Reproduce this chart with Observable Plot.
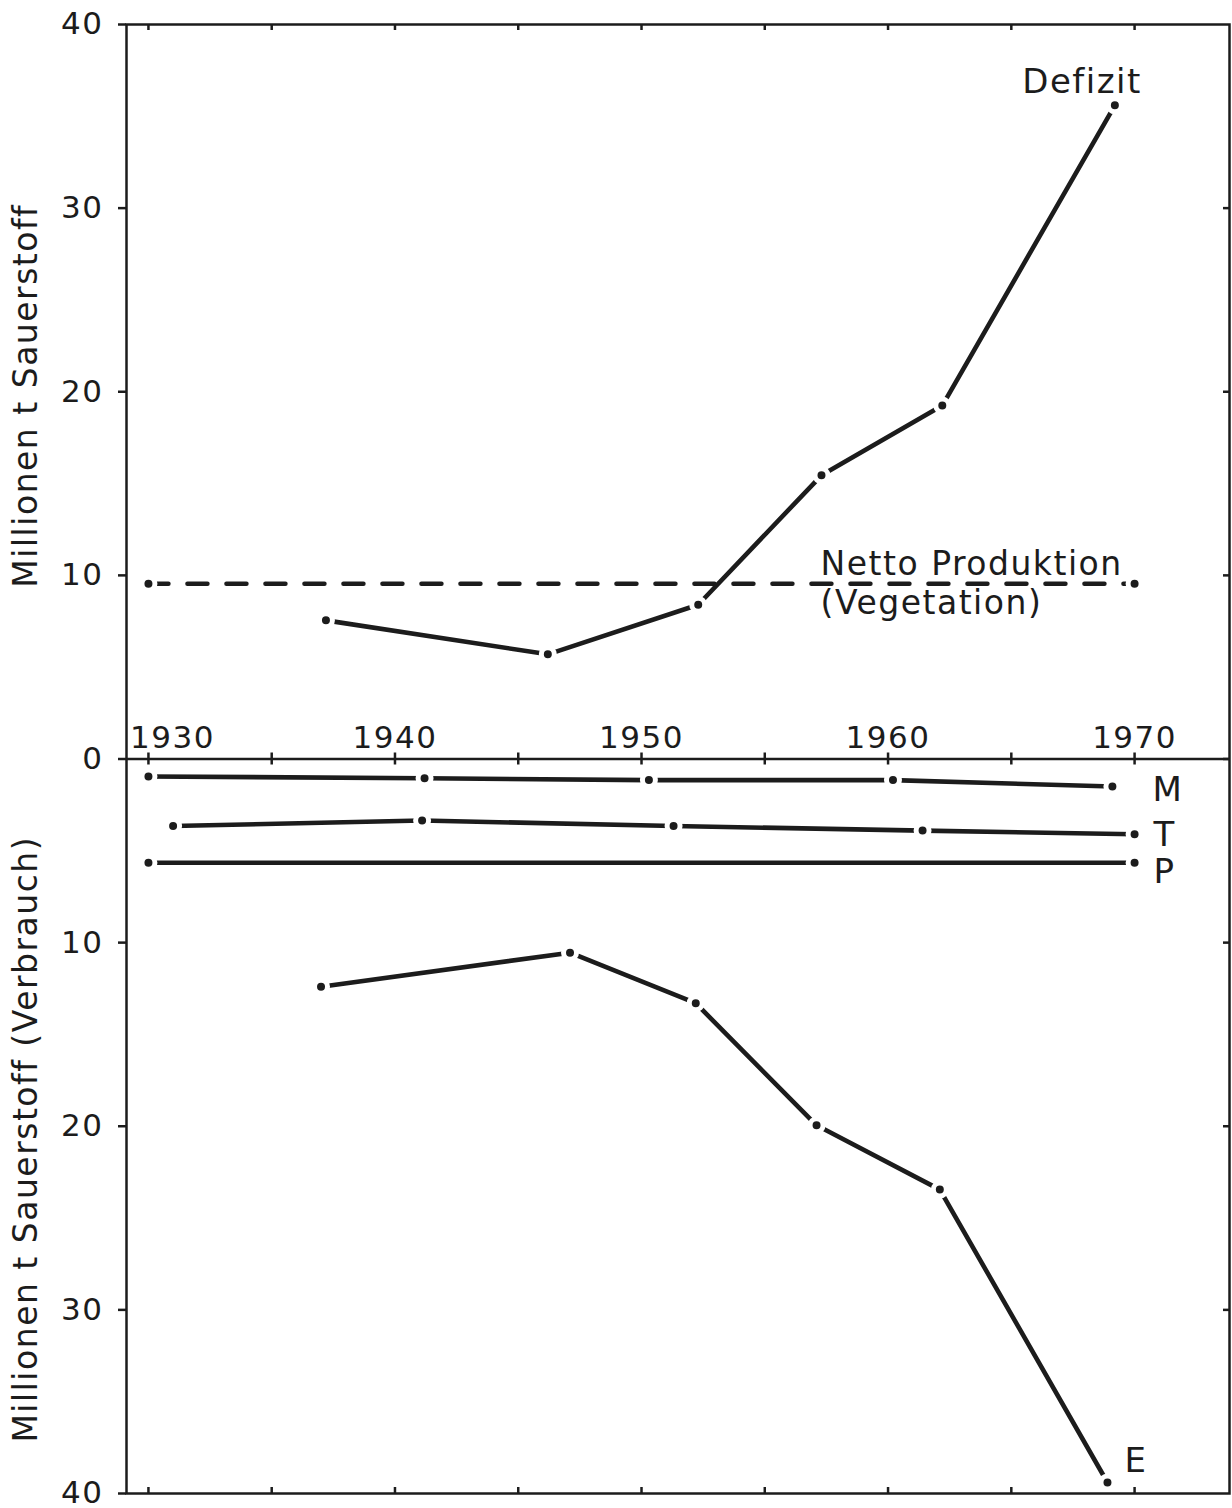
<!DOCTYPE html>
<html>
<head>
<meta charset="utf-8">
<script src="https://cdn.jsdelivr.net/npm/d3@7"></script>
<script src="https://cdn.jsdelivr.net/npm/@observablehq/plot@0.6"></script>
<style>
  html, body { margin: 0; padding: 0; background: #ffffff; }
  #chart svg { display: block; }
  #chart svg text { letter-spacing: 1.5px; }
</style>
</head>
<body>
<div id="chart"></div>
<script>
// ---------- data ----------
const yearTicks = [1930, 1935, 1940, 1945, 1950, 1955, 1960, 1965, 1970];
const yearLabels = [1930, 1940, 1950, 1960, 1970];
const valueTicks = [-40, -30, -20, -10, 0, 10, 20, 30, 40];

// upper panel (Millionen t Sauerstoff)
const defizitYears  = [1937.2, 1946.2, 1952.3, 1957.3, 1962.2, 1969.2];
const defizitValues = [7.55, 5.7, 8.4, 15.45, 19.25, 35.6];
const nettoYears  = [1930, 1970];
const nettoValues = [9.55, 9.55];

// lower panel (Verbrauch), values as printed (drawn downward)
const mYears  = [1930, 1941.2, 1950.3, 1960.2, 1969.1];
const mValues = [0.95, 1.05, 1.15, 1.15, 1.5];
const tYears  = [1931, 1941.1, 1951.3, 1961.4, 1970];
const tValues = [3.65, 3.35, 3.65, 3.9, 4.1];
const pYears  = [1930, 1970];
const pValues = [5.65, 5.65];
const eYears  = [1937, 1947.1, 1952.2, 1957.1, 1962.1, 1968.9];
const eValues = [12.4, 10.55, 13.3, 19.95, 23.45, 39.4];

const titleUpper = "Millionen t Sauerstoff";
const titleLower = "Millionen t Sauerstoff (Verbrauch)";

// ---------- layout ----------
const W = 1232, H = 1508;
const mL = 126, mR = 3, mT = 24, mB = 15;
const xMin = 1929.11, xMax = 1973.85;
const yMax = 40;
const pxPerUnit = (H - mT - mB) / (2 * yMax);
const pxPerYear = (W - mL - mR) / (xMax - xMin);
const tl = 6 / pxPerUnit;       // tick length in value units
const tlx = 6 / pxPerYear;      // tick length in year units
const ink = "#1c1c1c";

const rows = (series, years, values, sign) =>
  years.map((x, i) => ({series, x, y: sign * values[i]}));

const defizit = rows("Defizit", defizitYears, defizitValues, 1);
const netto = rows("Netto", nettoYears, nettoValues, 1);
const mRows = rows("M", mYears, mValues, -1);
const tRows = rows("T", tYears, tValues, -1);
const pRows = rows("P", pYears, pValues, -1);
const eRows = rows("E", eYears, eValues, -1);
const solid = [...defizit, ...mRows, ...tRows, ...pRows, ...eRows];
const allPts = [...solid, ...netto];

const lastOf = (arr) => [arr[arr.length - 1]];
const labelFont = 34;

const chart = Plot.plot({
  width: W,
  height: H,
  marginLeft: mL,
  marginRight: mR,
  marginTop: mT,
  marginBottom: mB,
  style: {fontFamily: "'DejaVu Sans', sans-serif", color: ink, background: "#ffffff", overflow: "visible"},
  x: {domain: [xMin, xMax], axis: null},
  y: {domain: [-yMax, yMax], axis: null},
  marks: [
    Plot.frame({stroke: ink, strokeWidth: 2.5}),
    Plot.ruleY([0], {stroke: ink, strokeWidth: 2.5}),
    // y axis on the left
    Plot.axisY(valueTicks, {
      anchor: "left", tickSize: 8, tickPadding: 15, strokeWidth: 2.5,
      tickFormat: (d) => String(Math.abs(d)), fontSize: 31, label: null
    }),
    // small inward ticks on the right edge
    Plot.ruleY(valueTicks.filter((d) => Math.abs(d) < yMax), {
      y: (d) => d, x1: xMax - tlx, x2: xMax, stroke: ink, strokeWidth: 2.5
    }),
    // x ticks: top (inward), middle (crossing), bottom (inward)
    Plot.ruleX(yearTicks, {x: (d) => d, y1: yMax, y2: yMax - tl, stroke: ink, strokeWidth: 2.5}),
    Plot.ruleX(yearTicks, {x: (d) => d, y1: tl, y2: -tl, stroke: ink, strokeWidth: 2.5}),
    Plot.ruleX(yearTicks, {x: (d) => d, y1: -yMax, y2: -yMax + tl, stroke: ink, strokeWidth: 2.5}),
    // year labels above the zero line
    Plot.text(yearLabels.slice(1), {
      x: (d) => d, y: () => 0, text: (d) => String(d),
      lineAnchor: "bottom", dy: -11, fontSize: 31
    }),
    Plot.text(yearLabels.slice(0, 1), {
      x: (d) => d, y: () => 0, text: (d) => String(d),
      lineAnchor: "bottom", dy: -11, dx: 24, fontSize: 31
    }),
    // y titles
    Plot.text([titleUpper], {
      text: (d) => d, y: () => yMax / 2, frameAnchor: "left",
      rotate: -90, dx: -100, dy: 4, fontSize: 33, textAnchor: "middle", lineAnchor: "middle"
    }),
    Plot.text([titleLower], {
      text: (d) => d, y: () => -yMax / 2, frameAnchor: "left",
      rotate: -90, dx: -100, dy: 13, fontSize: 33, textAnchor: "middle", lineAnchor: "middle"
    }),
    // lines
    Plot.line(netto, {x: "x", y: "y", stroke: ink, strokeWidth: 4.5, strokeDasharray: "20,19"}),
    Plot.line(solid, {x: "x", y: "y", z: "series", stroke: ink, strokeWidth: 4.6, strokeLinecap: "round"}),
    // dots with white halo (drafting-style gaps)
    Plot.dot(allPts, {x: "x", y: "y", r: 6.5, fill: ink, stroke: "#ffffff", strokeWidth: 5}),
    // series labels
    Plot.text(lastOf(defizit), {x: "x", y: "y", text: () => "Defizit", textAnchor: "end", lineAnchor: "bottom", dx: 27, dy: -12, fontSize: labelFont}),
    Plot.text(lastOf(netto), {x: "x", y: "y", text: () => "Netto Produktion\n(Vegetation)", textAnchor: "start", lineAnchor: "middle", lineHeight: 1.2, dx: -314, dy: -2, fontSize: labelFont - 1}),
    Plot.text(lastOf(mRows), {x: "x", y: "y", text: () => "M", textAnchor: "start", lineAnchor: "middle", dx: 40, dy: 4, fontSize: labelFont}),
    Plot.text(lastOf(tRows), {x: "x", y: "y", text: () => "T", textAnchor: "start", lineAnchor: "middle", dx: 19, dy: 1, fontSize: labelFont}),
    Plot.text(lastOf(pRows), {x: "x", y: "y", text: () => "P", textAnchor: "start", lineAnchor: "middle", dx: 19, dy: 9, fontSize: labelFont}),
    Plot.text(lastOf(eRows), {x: "x", y: "y", text: () => "E", textAnchor: "start", lineAnchor: "middle", dx: 17, dy: -21, fontSize: labelFont})
  ]
});

document.getElementById("chart").appendChild(chart);
</script>
</body>
</html>
